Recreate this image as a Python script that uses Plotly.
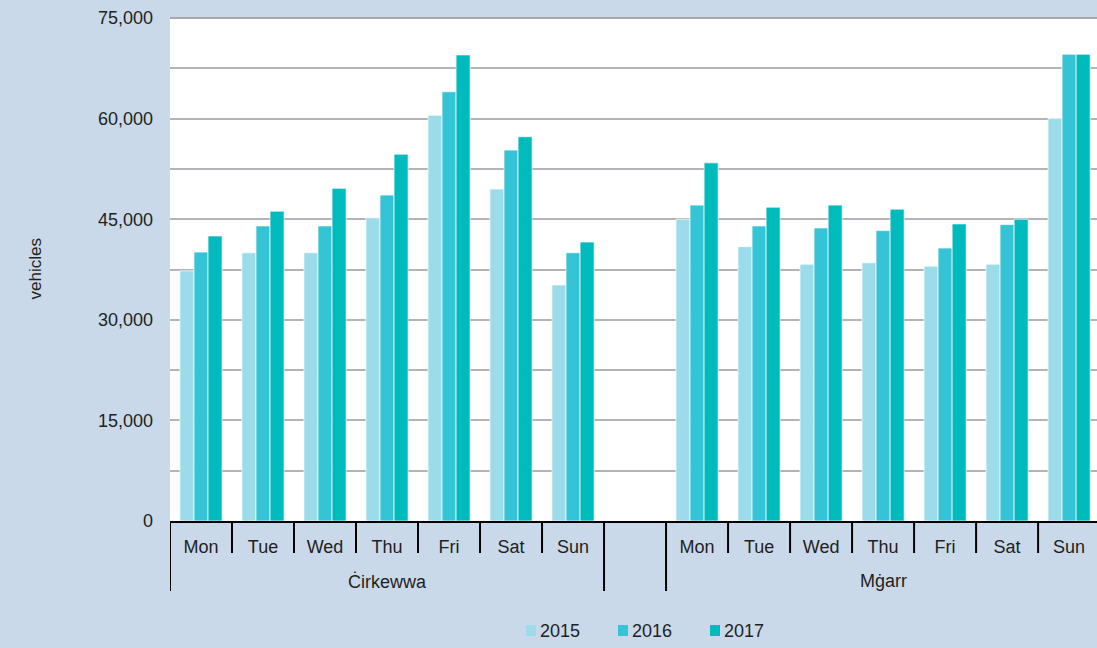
import plotly.graph_objects as go

days = ["Mon", "Tue", "Wed", "Thu", "Fri", "Sat", "Sun"]
locations = ["Ċirkewwa", "Mġarr"]
years = ["2015", "2016", "2017"]

cirkewwa_2015 = [37300, 40000, 40000, 45200, 60500, 49500, 35200]
cirkewwa_2016 = [40100, 44000, 44000, 48600, 64000, 55300, 40000]
cirkewwa_2017 = [42500, 46200, 49600, 54700, 69500, 57300, 41600]

mgarr_2015 = [45000, 40900, 38300, 38500, 38000, 38300, 60000]
mgarr_2016 = [47100, 44000, 43700, 43300, 40700, 44200, 69600]
mgarr_2017 = [53400, 46800, 47100, 46500, 44300, 45000, 69600]

colors = ["#9cdbea", "#35c3d6", "#00bbbd"]

# 15 category slots: 7 days, an empty spacer, 7 days
cats = [f"{locations[0]}|{d}" for d in days] + ["gap"] + [f"{locations[1]}|{d}" for d in days]
tick_text = days + [""] + days

series = {
    "2015": cirkewwa_2015 + [None] + mgarr_2015,
    "2016": cirkewwa_2016 + [None] + mgarr_2016,
    "2017": cirkewwa_2017 + [None] + mgarr_2017,
}

fig = go.Figure()
for yr, col in zip(years, colors):
    fig.add_trace(go.Bar(
        x=cats, y=series[yr], name=yr, showlegend=False,
        marker=dict(color=col, line=dict(color="rgba(255,255,255,0.7)", width=1)),
    ))

PLOT_L, PLOT_W, PLOT_B, PLOT_H = 170, 927, 521, 503

def px_x(px):
    return (px - PLOT_L) / PLOT_W

def px_y(px):
    return (PLOT_B - px) / PLOT_H

shapes = []
n = len(cats)
group_bounds = {-0.5, 6.5, 7.5}
for i in range(n):
    b = i - 0.5
    length = 70 if b in group_bounds else 32
    shapes.append(dict(type="line", xref="x", yref="paper", x0=b, x1=b,
                       y0=0, y1=px_y(PLOT_B + length), line=dict(color="#000000", width=2)))

# darker top border line at the axis maximum
shapes.append(dict(type="line", xref="paper", yref="paper", x0=0, x1=1, y0=1, y1=1,
                   line=dict(color="#a7a7ad", width=2)))

annotations = [
    dict(text=locations[0], x=3, xref="x", y=px_y(581), yref="paper",
         showarrow=False, yanchor="middle", font=dict(size=18)),
    dict(text=locations[1], x=11, xref="x", y=px_y(581), yref="paper",
         showarrow=False, yanchor="middle", font=dict(size=18)),
    dict(text="vehicles", x=px_x(35), xref="paper", xanchor="center", y=0.5, yref="paper",
         yanchor="middle", showarrow=False, textangle=-90, font=dict(size=17)),
]

# legend drawn as swatches + labels
legend_sq_left = [526, 618, 710]
for yr, col, sx in zip(years, colors, legend_sq_left):
    shapes.append(dict(type="rect", xref="paper", yref="paper",
                       x0=px_x(sx), x1=px_x(sx + 10), y0=px_y(625), y1=px_y(636),
                       fillcolor=col, line=dict(width=0)))
    annotations.append(dict(text=yr, x=px_x(sx + 12), xref="paper", xanchor="left",
                            y=px_y(631), yref="paper", yanchor="middle",
                            showarrow=False, font=dict(size=18)))

font_family = "Liberation Sans, Arial, sans-serif"
fig.update_layout(
    width=1097, height=648,
    paper_bgcolor="#c9d9ea", plot_bgcolor="#ffffff",
    margin=dict(l=170, r=0, t=18, b=127),
    barmode="group", bargap=0.32, bargroupgap=0,
    font=dict(family=font_family, size=18, color="#231f20"),
    showlegend=False,
    xaxis=dict(
        type="category", range=[-0.5, 14.45],
        tickmode="array", tickvals=cats, ticktext=tick_text,
        showline=True, linecolor="#000000", linewidth=2,
        ticks="", ticklabelstandoff=8,
        tickfont=dict(size=18), showgrid=False,
    ),
    yaxis=dict(
        range=[0, 75000], dtick=15000, tickformat=",d",
        showgrid=True, gridcolor="#b3b3b8", gridwidth=1.5,
        minor=dict(dtick=7500, showgrid=True, gridcolor="#b3b3b8", gridwidth=1.5),
        zeroline=False, showline=False, ticks="", ticklabelstandoff=16,
        tickfont=dict(size=18),
    ),
    shapes=shapes,
    annotations=annotations,
)

fig.write_html("out.html", config={"displayModeBar": False},
               post_script="document.body.style.margin='0';document.body.style.overflow='hidden';")
